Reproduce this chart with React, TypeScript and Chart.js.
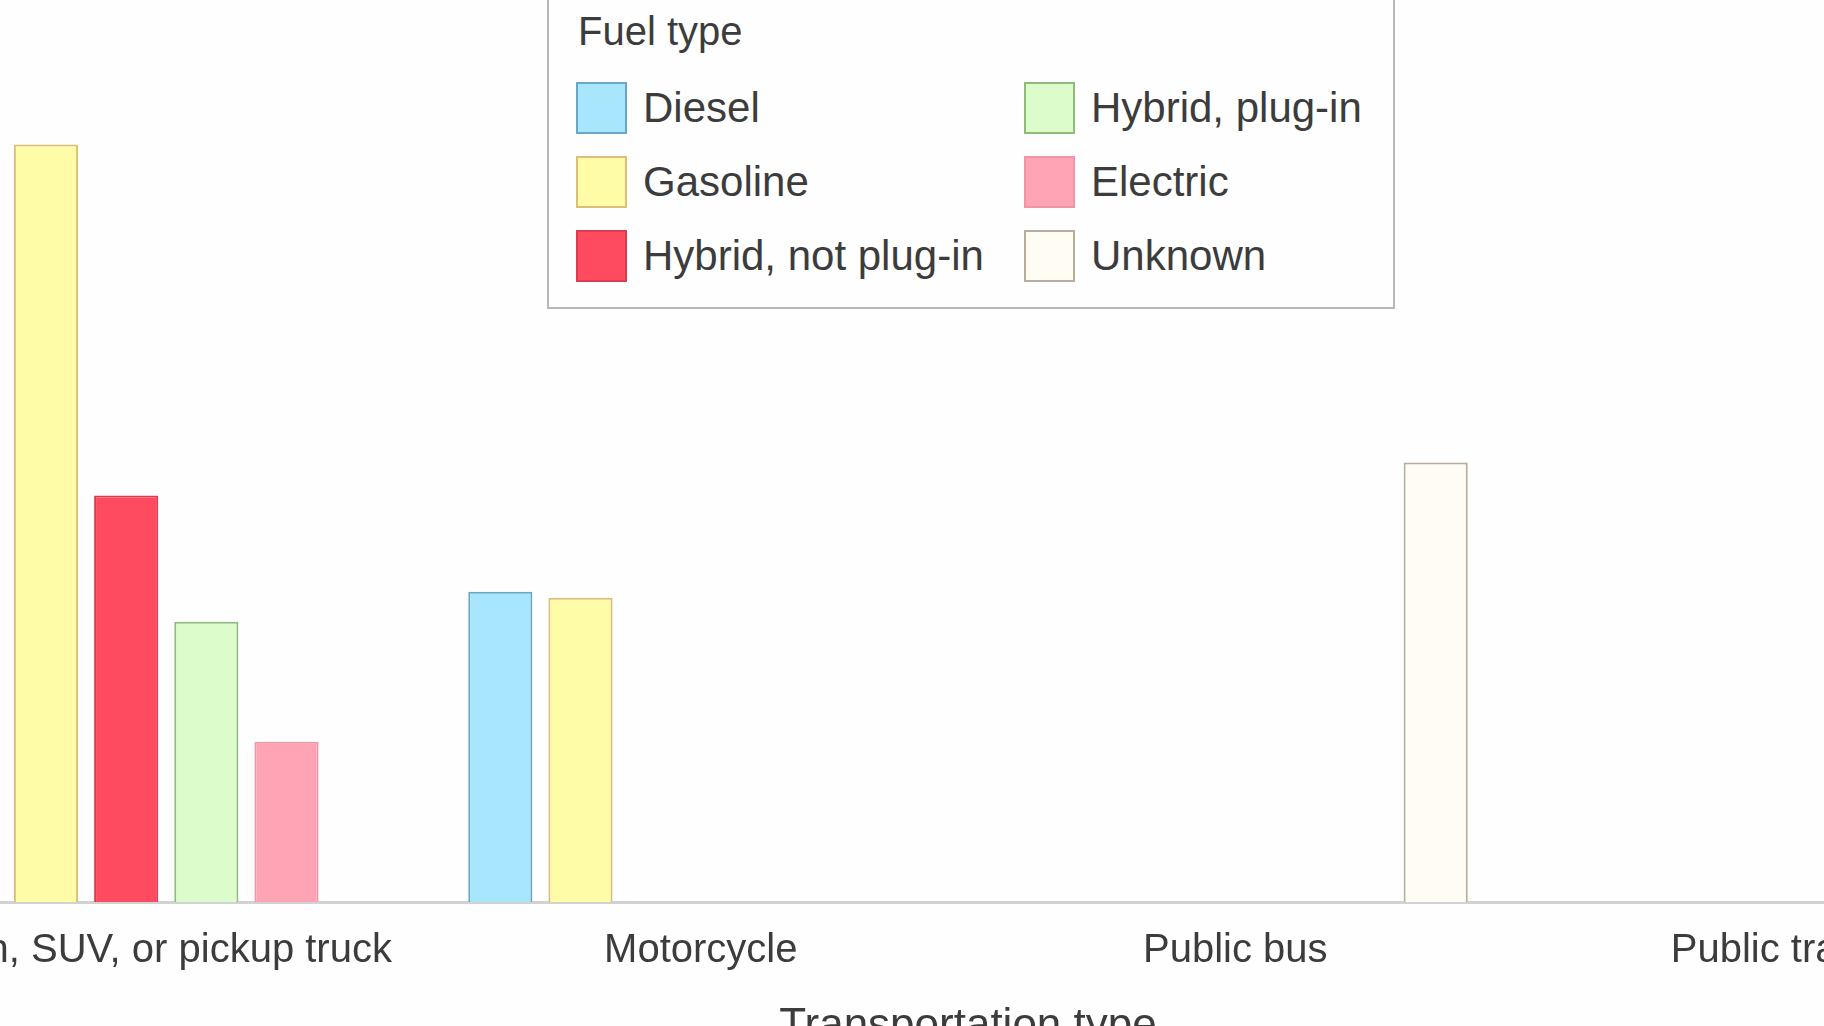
import React, { useEffect, useRef } from "react";
import { Chart, registerables } from "chart.js";

Chart.register(...registerables);

// ---- data ----
const categories = ["Van, SUV, or pickup truck", "Motorcycle", "Public bus", "Public train"];
const fuelTypes = ["Diesel", "Gasoline", "Hybrid, not plug-in", "Hybrid, plug-in", "Electric", "Unknown"];
const diesel = [null, 20.7, null, null];
const gasoline = [50.5, 20.3, null, null];
const hybridNotPlugIn = [27.1, null, null, null];
const hybridPlugIn = [18.7, null, null, null];
const electric = [10.7, null, null, null];
const unknown = [null, null, 29.3, null];
const seriesValues = [diesel, gasoline, hybridNotPlugIn, hybridPlugIn, electric, unknown];
const yTicks = [0, 10, 20, 30, 40, 50, 60];
const xTitle = "Transportation type";
const legendTitle = "Fuel type";

// ---- styles ----
const fillColors = ["#a8e6fd", "#fffca8", "#ff4b5f", "#dcfccc", "#ffa4b4", "#fffcf3"];
const borderColors = ["#6aa6c6", "#dcbe78", "#dc3c50", "#8fba7c", "#f095a6", "#b9ac98"];
const FONT = "'Liberation Sans', Arial, sans-serif";
const TEXT = "#3c3c3c";
const BG = "#fefefe";

const WRAP_LEFT = -141;
const WRAP_W = 2218;
const WRAP_H = 1053;

function Legend() {
  const colX = [576, 1024];
  const rowY = [82, 156, 230];
  return (
    <div>
      <div
        style={{
          position: "absolute",
          left: 547,
          top: -20,
          width: 848,
          height: 329,
          boxSizing: "border-box",
          border: "2px solid #b8b8b8",
          background: BG,
        }}
      />
      <div
        style={{
          position: "absolute",
          left: 578,
          top: 11,
          font: `40px ${FONT}`,
          lineHeight: "40px",
          color: TEXT,
          whiteSpace: "nowrap",
        }}
      >
        {legendTitle}
      </div>
      {fuelTypes.map((name, i) => {
        const col = Math.floor(i / 3);
        const row = i % 3;
        const x = colX[col];
        const y = rowY[row];
        return (
          <React.Fragment key={name}>
            <div
              style={{
                position: "absolute",
                left: x,
                top: y,
                width: 51,
                height: 52,
                boxSizing: "border-box",
                background: fillColors[i],
                border: `2px solid ${borderColors[i]}`,
              }}
            />
            <div
              style={{
                position: "absolute",
                left: x + 67,
                top: y,
                font: `42px ${FONT}`,
                lineHeight: "52px",
                color: TEXT,
                whiteSpace: "nowrap",
              }}
            >
              {name}
            </div>
          </React.Fragment>
        );
      })}
    </div>
  );
}

export default function App() {
  const canvasRef = useRef<HTMLCanvasElement | null>(null);

  useEffect(() => {
    const canvas = canvasRef.current;
    if (!canvas) return;
    const chart = new Chart(canvas, {
      type: "bar",
      data: {
        labels: categories,
        datasets: fuelTypes.map((name, i) => ({
          label: name,
          data: seriesValues[i],
          backgroundColor: fillColors[i],
          borderColor: borderColors[i],
          borderWidth: 2,
          barPercentage: 0.8,
          categoryPercentage: 0.9,
        })),
      },
      options: {
        animation: false,
        responsive: true,
        maintainAspectRatio: false,
        layout: { padding: { left: 40, right: 40, top: 2, bottom: 0 } },
        plugins: {
          legend: { display: false },
          tooltip: { enabled: false },
          title: { display: false },
        },
        scales: {
          x: {
            grid: { display: false, drawTicks: false },
            border: { display: true, color: "#d2d2d2", width: 3 },
            ticks: {
              color: TEXT,
              font: { family: FONT, size: 40 },
              padding: 25,
              maxRotation: 0,
              minRotation: 0,
              autoSkip: false,
            },
            title: {
              display: true,
              text: xTitle,
              color: TEXT,
              font: { family: FONT, size: 44 },
              padding: { top: 0, bottom: 0 },
            },
          },
          y: {
            display: false,
            min: yTicks[0],
            max: yTicks[yTicks.length - 1],
            ticks: { stepSize: yTicks[1] - yTicks[0] },
          },
        },
      },
    });
    return () => chart.destroy();
  }, []);

  return (
    <div
      style={{
        position: "fixed",
        left: 0,
        top: 0,
        width: 1824,
        height: 1026,
        overflow: "hidden",
        background: BG,
      }}
    >
      <div
        style={{
          position: "absolute",
          left: WRAP_LEFT,
          top: 0,
          width: WRAP_W,
          height: WRAP_H,
        }}
      >
        <canvas ref={canvasRef} />
      </div>
      <Legend />
    </div>
  );
}
